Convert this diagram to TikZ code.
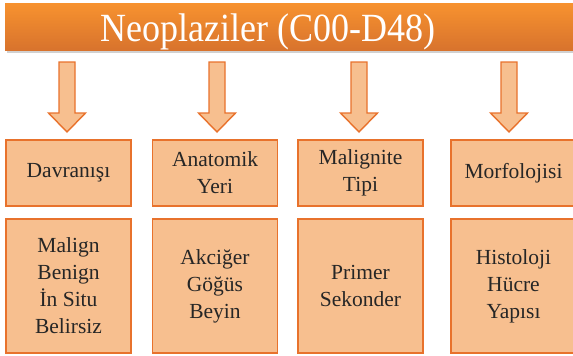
\documentclass[tikz,border=0pt]{standalone}
\usepackage{fontspec}
\setmainfont{Liberation Serif}
\newfontfamily\boxserif{Liberation Serif}
\usetikzlibrary{calc}
\definecolor{boxfill}{HTML}{F7BF8F}
\definecolor{boxline}{HTML}{E8722C}
\definecolor{titletop}{HTML}{F7922F}
\definecolor{titlebot}{HTML}{D8732D}
\definecolor{txt}{HTML}{262626}
\tikzset{
  catbox/.style={draw=boxline, line width=1.6pt, fill=boxfill, text=txt,
    minimum width=125, minimum height=66.4, inner sep=0pt, align=center,
    font=\boxserif\fontsize{21.5}{27}\selectfont},
  valbox/.style={catbox, minimum height=134.4},
  barrow/.style={draw=boxline, line width=1.4pt, fill=boxfill, line join=miter},
}
\begin{document}
\begin{tikzpicture}[x=1pt,y=-1pt]
\useasboundingbox (0,0) rectangle (573,356);
\clip (0,0) rectangle (573,356);
% title bar
\fill[black!18] (7,5) rectangle (590,53);
\node[minimum width=590, minimum height=47, inner sep=0pt, anchor=north west,
  top color=titletop, bottom color=titlebot, draw=none] (title) at (5,3) {};
\node[text=white, font=\boxserif\fontsize{40}{44}\selectfont, inner sep=0pt,
  anchor=base west, xscale=0.9, transform shape] (titletext) at (100,41) {Neoplaziler (C00-D48)};
% boxes
\node[catbox] (c1) at (68.5,173) {Davranışı};
\node[catbox] (c2) at (215,173) {Anatomik\\Yeri};
\node[catbox] (c3) at (360.5,173) {Malignite\\Tipi};
\node[catbox] (c4) at (513.5,173) {Morfolojisi};
\node[valbox] (v1) at (68.5,286) {Malign\\Benign\\İn Situ\\Belirsiz};
\node[valbox] (v2) at (215,286) {Akciğer\\Göğüs\\Beyin};
\node[valbox] (v3) at (360.5,286) {Primer\\Sekonder};
\node[valbox] (v4) at (513.5,286) {Histoloji\\Hücre\\Yapısı};
% block arrows
\foreach \cx in {67,217,359,509}{
  \draw[barrow] (\cx-8,62) -- (\cx+8,62) -- (\cx+8,113) -- (\cx+18.5,113)
    -- (\cx,132) -- (\cx-18.5,113) -- (\cx-8,113) -- cycle;
}
\end{tikzpicture}
\end{document}
